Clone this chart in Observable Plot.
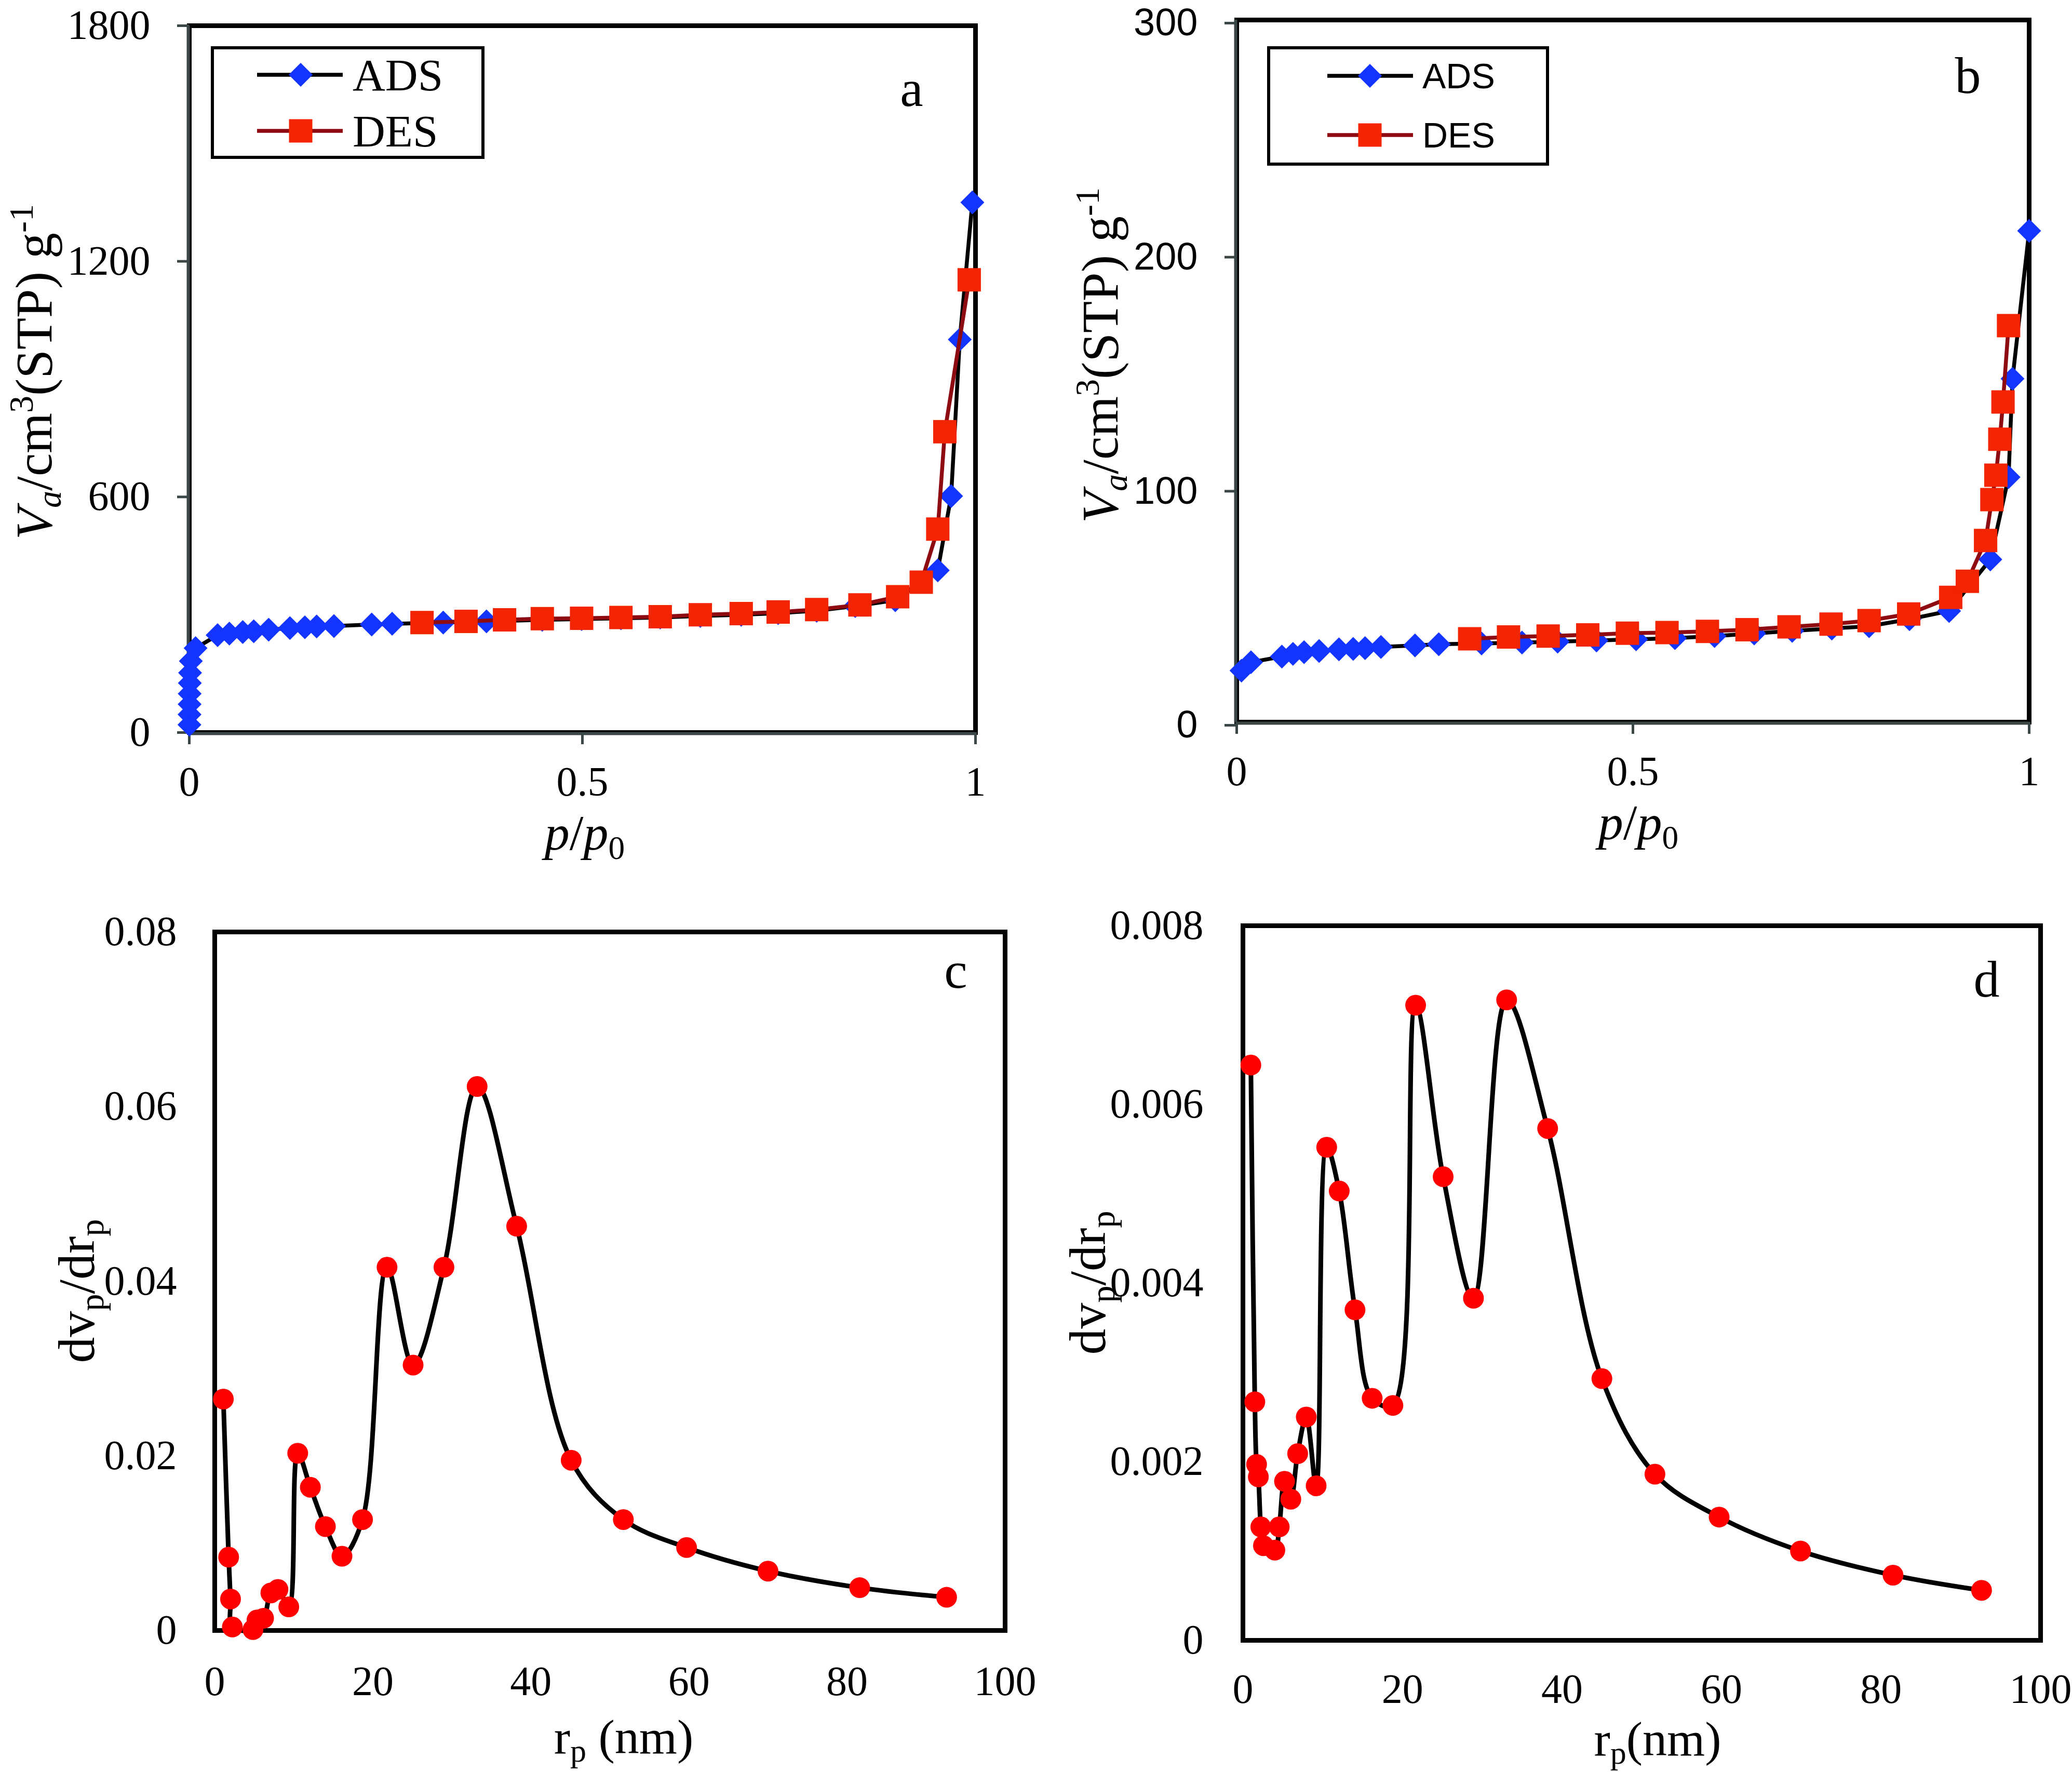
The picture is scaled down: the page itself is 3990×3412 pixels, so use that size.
<!DOCTYPE html>
<html>
<head>
<meta charset="utf-8">
<script src="https://cdn.jsdelivr.net/npm/d3@7"></script>
<script src="https://cdn.jsdelivr.net/npm/@observablehq/plot@0.6"></script>
<style>
  html, body { margin: 0; padding: 0; background: #fff; }
  #page { position: relative; width: 3990px; height: 3412px; background: #fff; overflow: hidden; }
  .panel { position: absolute; }
  .panel svg { overflow: visible !important; max-width: none !important; background: transparent !important; }
  .t { position: absolute; white-space: nowrap; font-family: "Liberation Serif", "Times New Roman", serif;
       font-size: 100px; line-height: 0.7; color: #000; transform: translate(-50%, -50%); }
  .xtitle { font-size: 96px; }
  .rtitle { font-size: 94px; }
  .rtitle sub { vertical-align: -0.26em !important; }
  .ytitle { transform: translate(-50%, -50%) rotate(-90deg); }
  .t sub { font-size: 0.66em; vertical-align: -0.28em; line-height: 0; }
  .t sup { font-size: 0.66em; vertical-align: 0.55em; line-height: 0; }
  .legend { position: absolute; }
</style>
</head>
<body>
<div id="page"></div>
<script>
// ---- Nitrogen isotherm, sample (a): adsorption / desorption branches ----
const aAdsP = [0.0002, 0.0003, 0.0004, 0.0005, 0.0007, 0.001, 0.002, 0.008, 0.036, 0.051, 0.068, 0.082,
               0.101, 0.128, 0.147, 0.162, 0.184, 0.232, 0.258, 0.323, 0.378, 0.449, 0.499, 0.549,
               0.599, 0.650, 0.702, 0.749, 0.798, 0.847, 0.898, 0.952, 0.969, 0.980, 0.996];
const aAdsV = [20, 46, 72, 99, 126, 152, 182, 215, 248, 252, 256, 258,
               262, 266, 268, 270, 271, 275, 277, 280, 283, 287, 289, 291,
               293, 297, 300, 304, 310, 322, 337, 413, 602, 1001, 1350];
const aDesP = [0.296, 0.352, 0.401, 0.449, 0.499, 0.549, 0.599, 0.650, 0.702, 0.749, 0.798,
               0.853, 0.901, 0.931, 0.952, 0.961, 0.992];
const aDesV = [280, 283, 287, 290, 291, 293, 295, 300, 303, 307, 313,
               325, 346, 383, 518, 766, 1153];

// ---- Nitrogen isotherm, sample (b) ----
const bAdsP = [0.006, 0.018, 0.057, 0.071, 0.085, 0.104, 0.129, 0.147, 0.162, 0.182, 0.225, 0.255,
               0.309, 0.360, 0.405, 0.454, 0.504, 0.553, 0.603, 0.653, 0.701, 0.751, 0.798, 0.849,
               0.899, 0.951, 0.974, 0.979, 1.0];
const bAdsV = [22.0, 25.6, 28.0, 29.2, 29.9, 30.4, 31.1, 31.3, 31.6, 32.1, 32.8, 33.3,
               33.6, 34.0, 34.4, 34.9, 35.4, 35.9, 36.8, 37.9, 39.0, 40.0, 41.0, 44.0,
               47.5, 69.5, 104.7, 146.7, 209.9];
const bDesP = [0.294, 0.343, 0.393, 0.443, 0.493, 0.543, 0.594, 0.644, 0.697, 0.750, 0.798,
               0.848, 0.901, 0.922, 0.945, 0.953, 0.958, 0.963, 0.967, 0.974];
const bDesV = [35.6, 36.4, 36.8, 37.3, 38.0, 38.3, 38.8, 39.5, 40.7, 41.9, 43.4,
               46.2, 53.3, 60.2, 77.6, 95.1, 105.5, 120.9, 136.8, 169.4];

// ---- Pore size distribution, sample (c) ----
const cR = [1.09, 1.76, 2.0, 2.23, 4.84, 5.35, 6.18, 7.1, 8.0, 9.37, 10.5, 12.1, 14.0, 16.1, 18.7,
            21.8, 25.1, 29.0, 33.2, 38.2, 45.1, 51.7, 59.7, 70.0, 81.6, 92.6];
const cV = [0.0265, 0.0084, 0.0036, 0.0004, 0.0001, 0.0012, 0.0014, 0.0043, 0.0047, 0.0027, 0.0203,
            0.0164, 0.0119, 0.0085, 0.0127, 0.0416, 0.0304, 0.0416, 0.0623, 0.0463, 0.0195,
            0.0127, 0.0095, 0.0068, 0.0049, 0.0038];

// ---- Pore size distribution, sample (d) ----
const dR = [0.99, 1.49, 1.71, 1.93, 2.24, 2.57, 4.0, 4.55, 5.21, 6.0, 6.86, 7.94, 9.18, 10.5, 12.07,
            14.05, 16.2, 18.8, 21.65, 25.1, 28.9, 33.06, 38.2, 45.0, 51.65, 59.7, 69.9, 81.5, 92.6];
const dV = [0.00644, 0.00267, 0.00197, 0.00183, 0.00127, 0.00106, 0.00101, 0.00127, 0.00178, 0.00158,
            0.00209, 0.0025, 0.00173, 0.00552, 0.00503, 0.0037, 0.00271, 0.00263, 0.00711, 0.00519,
            0.00383, 0.00717, 0.00573, 0.00293, 0.00186, 0.00138, 0.00100, 0.00073, 0.00056];

// ---- axis ticks ----
const isoXTicks = [0, 0.5, 1];
const aYTicks = [0, 600, 1200, 1800];
const bYTicks = [0, 100, 200, 300];
const psdXTicks = [0, 20, 40, 60, 80, 100];
const cYTicks = [0, 0.02, 0.04, 0.06, 0.08];
const dYTicks = [0, 0.002, 0.004, 0.006, 0.008];

const SERIF = "Liberation Serif, Times New Roman, serif";
const SANS = "Liberation Sans, Arial, sans-serif";
const AXIS_GRAY = "#3b4747";
const ADS_BLUE = "#1434ff";
const DES_RED = "#f22500";
const DES_LINE = "#8e0b12";
const DOT_RED = "#ff0000";

const zip = (xs, ys) => xs.map((x, i) => ({x, y: ys[i]}));
const fmt = d => String(d);
const page = document.getElementById("page");

function place(node, left, top, w, h) {
  const div = document.createElement("div");
  div.className = "panel";
  div.style.left = left + "px";
  div.style.top = top + "px";
  div.style.width = w + "px";
  div.style.height = h + "px";
  div.appendChild(node);
  page.appendChild(div);
}

function html(cls, left, top, inner, extra = "") {
  const div = document.createElement("div");
  div.className = cls;
  div.style.cssText = `left:${left}px;top:${top}px;${extra}`;
  div.innerHTML = inner;
  page.appendChild(div);
}

function isotherm({ads, des, yDomain, yTicks, yFont, yFontSize, yDy, margins, letter, letterDx, letterDy}) {
  return Plot.plot({
    width: 1990, height: 1700,
    ...margins,
    x: {domain: [0, 1]},
    y: {domain: yDomain},
    style: {fontFamily: SERIF, background: "transparent"},
    marks: [
      Plot.frame({stroke: "black", strokeWidth: 9}),
      Plot.ruleX([0], {stroke: AXIS_GRAY, strokeWidth: 6, dx: -2}),
      Plot.ruleY([0], {stroke: AXIS_GRAY, strokeWidth: 6, dy: 2}),
      Plot.axisX({ticks: isoXTicks, tickFormat: fmt, tickSize: 23, tickPadding: 42, label: null,
                  stroke: AXIS_GRAY, strokeWidth: 5, fontSize: 80, fontFamily: SERIF}),
      Plot.axisY({ticks: yTicks, tickFormat: fmt, tickSize: 23, tickPadding: 52, label: null, dy: yDy,
                  stroke: AXIS_GRAY, strokeWidth: 5, fontSize: yFontSize, fontFamily: yFont}),
      Plot.line(ads, {x: "x", y: "y", stroke: "black", strokeWidth: 7.5}),
      Plot.dot(ads, {x: "x", y: "y", symbol: "diamond2", r: 20.7, fill: ADS_BLUE, stroke: "none"}),
      Plot.line(des, {x: "x", y: "y", stroke: DES_LINE, strokeWidth: 7.5}),
      Plot.dot(des, {x: "x", y: "y", symbol: "square", r: 25.4, fill: DES_RED, stroke: "none"}),
      Plot.text([letter], {text: d => d, frameAnchor: "top-right", dx: letterDx, dy: letterDy,
                           textAnchor: "middle", lineAnchor: "middle", fontSize: 100, fontFamily: SERIF})
    ]
  });
}

function distribution({r, v, yDomain, yTicks, margins, letter, letterDx, letterDy, yPad, xPad}) {
  const pts = zip(r, v);
  return Plot.plot({
    width: 1990, height: 1712,
    ...margins,
    x: {domain: [0, 100]},
    y: {domain: yDomain},
    style: {fontFamily: SERIF, background: "transparent"},
    marks: [
      Plot.frame({stroke: "black", strokeWidth: 9}),
      Plot.axisX({ticks: psdXTicks, tickFormat: fmt, tickSize: 0, tickPadding: xPad, label: null,
                  fontSize: 80, fontFamily: SERIF}),
      Plot.axisY({ticks: yTicks, tickFormat: fmt, tickSize: 0, tickPadding: yPad, label: null,
                  fontSize: 80, fontFamily: SERIF}),
      Plot.line(pts, {x: "x", y: "y", stroke: "black", strokeWidth: 9, curve: "catmull-rom"}),
      Plot.dot(pts, {x: "x", y: "y", r: 20, fill: DOT_RED, stroke: "none"}),
      Plot.text([letter], {text: d => d, frameAnchor: "top-right", dx: letterDx, dy: letterDy,
                           textAnchor: "middle", lineAnchor: "middle", fontSize: 100, fontFamily: SERIF})
    ]
  });
}

// Panel a
place(isotherm({
  ads: zip(aAdsP, aAdsV), des: zip(aDesP, aDesV),
  yDomain: [0, 1800], yTicks: aYTicks, yFont: SERIF, yFontSize: 80, yDy: 0,
  margins: {marginLeft: 364, marginRight: 112, marginTop: 49, marginBottom: 290},
  letter: "a", letterDx: -123, letterDy: 122
}), 0, 0, 1990, 1700);

// Panel b
place(isotherm({
  ads: zip(bAdsP, bAdsV), des: zip(bDesP, bDesV),
  yDomain: [0, 300], yTicks: bYTicks, yFont: SANS, yFontSize: 74, yDy: 6,
  margins: {marginLeft: 381, marginRight: 83, marginTop: 38, marginBottom: 310},
  letter: "b", letterDx: -118, letterDy: 108
}), 2000, 0, 1990, 1700);

// Panel c
place(distribution({
  r: cR, v: cV, yDomain: [0, 0.08], yTicks: cYTicks,
  margins: {marginLeft: 413, marginRight: 55, marginTop: 94, marginBottom: 273},
  letter: "c", letterDx: -95, letterDy: 75, yPad: 73, xPad: 68
}), 0, 1700, 1990, 1712);

// Panel d
place(distribution({
  r: dR, v: dV, yDomain: [0, 0.008], yTicks: dYTicks,
  margins: {marginLeft: 393, marginRight: 61, marginTop: 82, marginBottom: 254},
  letter: "d", letterDx: -104, letterDy: 104, yPad: 76, xPad: 64
}), 2000, 1700, 1990, 1712);

// Axis titles
html("t ytitle", 66, 716, "<i>V</i><sub><i>a</i></sub>/cm<sup>3</sup>(STP) g<sup>-1</sup>");
html("t xtitle", 1126, 1604, "<i>p</i>/<i>p</i><sub>0</sub>");
html("t ytitle", 2119, 684, "<i>V</i><sub><i>a</i></sub>/cm<sup>3</sup>(STP) g<sup>-1</sup>");
html("t xtitle", 3155, 1584, "<i>p</i>/<i>p</i><sub>0</sub>");
html("t ytitle", 148, 2486, "dv<sub>p</sub>/dr<sub>p</sub>");
html("t rtitle", 1201, 3345, "r<sub>p</sub> (nm)");
html("t ytitle", 2095, 2470, "dv<sub>p</sub>/dr<sub>p</sub>");
html("t rtitle", 3192, 3349, "r<sub>p</sub>(nm)");

// Legends for the two isotherm panels
function legend(left, top, w, h, rows, font, fontSize, lineX0, lineX1, markX, textX) {
  const ns = "http://www.w3.org/2000/svg";
  const svg = document.createElementNS(ns, "svg");
  svg.setAttribute("width", w);
  svg.setAttribute("height", h);
  svg.setAttribute("class", "legend");
  svg.style.left = left + "px";
  svg.style.top = top + "px";
  let s = `<rect x="3" y="3" width="${w - 6}" height="${h - 6}" fill="white" stroke="black" stroke-width="6"/>`;
  for (const row of rows) {
    s += `<line x1="${lineX0}" x2="${lineX1}" y1="${row.y}" y2="${row.y}" stroke="${row.line}" stroke-width="7.5"/>`;
    if (row.shape === "diamond") {
      s += `<path d="M${markX},${row.y - 23}L${markX + 23},${row.y}L${markX},${row.y + 23}L${markX - 23},${row.y}Z" fill="${row.fill}"/>`;
    } else {
      s += `<rect x="${markX - 22.5}" y="${row.y - 22.5}" width="45" height="45" fill="${row.fill}"/>`;
    }
    s += `<text x="${textX}" y="${row.y}" dy="0.35em" font-family="${font}" font-size="${fontSize}">${row.label}</text>`;
  }
  svg.innerHTML = s;
  page.appendChild(svg);
}
legend(406, 89, 527, 217, [
  {y: 55, line: "black", fill: ADS_BLUE, shape: "diamond", label: "ADS"},
  {y: 163, line: DES_LINE, fill: DES_RED, shape: "square", label: "DES"}
], SERIF, 87, 89, 254, 173, 273);
legend(2440, 89, 543, 230, [
  {y: 57, line: "black", fill: ADS_BLUE, shape: "diamond", label: "ADS"},
  {y: 171, line: DES_LINE, fill: DES_RED, shape: "square", label: "DES"}
], SANS, 68, 116, 281, 198, 299);
</script>
</body>
</html>
